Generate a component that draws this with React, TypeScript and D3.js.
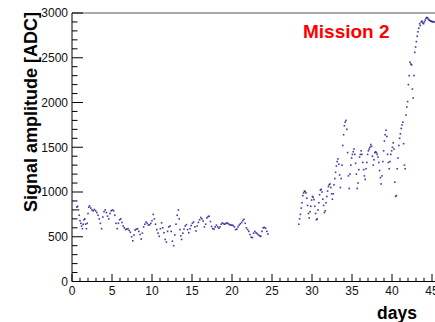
import React, { useEffect, useRef } from 'react';
import * as d3 from 'd3';

// first run (days 0.6 - 24.5)
const daysRunA = [
  0.6, 0.7, 0.8, 0.9, 1.0, 1.1, 1.2, 1.3, 1.4, 1.5, 1.6, 1.7, 1.8, 1.9, 2.0, 2.1, 2.2, 2.35, 2.5, 2.65,
  2.8, 2.95, 3.1, 3.25, 3.4, 3.55, 3.7, 3.85, 4.0, 4.15, 4.3, 4.45, 4.6, 4.75, 4.9, 5.05, 5.2, 5.35, 5.5, 5.65,
  5.8, 5.95, 6.1, 6.25, 6.4, 6.55, 6.7, 6.85, 7.0, 7.15, 7.3, 7.45, 7.6, 7.75, 7.9, 8.05, 8.2, 8.35, 8.5, 8.65,
  8.8, 8.95, 9.1, 9.25, 9.4, 9.55, 9.7, 9.85, 10.0, 10.15, 10.3, 10.45, 10.6, 10.75, 10.9, 11.05, 11.2, 11.35, 11.5, 11.65,
  11.8, 11.95, 12.1, 12.25, 12.4, 12.55, 12.7, 12.85, 13.0, 13.15, 13.3, 13.4, 13.5, 13.6, 13.7, 13.85, 14.0, 14.15, 14.3, 14.45,
  14.6, 14.75, 14.9, 15.05, 15.2, 15.35, 15.5, 15.65, 15.8, 15.95, 16.1, 16.25, 16.4, 16.55, 16.7, 16.85, 17.0, 17.15, 17.3, 17.45,
  17.6, 17.75, 17.9, 18.05, 18.2, 18.35, 18.5, 18.65, 18.8, 18.95, 19.1, 19.25, 19.4, 19.55, 19.7, 19.85, 20.0, 20.15, 20.3, 20.45,
  20.6, 20.75, 20.9, 21.05, 21.2, 21.35, 21.5, 21.65, 21.8, 21.95, 22.1, 22.25, 22.4, 22.55, 22.7, 22.85, 23.0, 23.15, 23.3, 23.45,
  23.6, 23.75, 23.9, 24.05, 24.2, 24.35, 24.5,
];
const adcRunA = [
  830, 840, 800, 740, 680, 650, 620, 590, 640, 690, 700, 640, 590, 650, 760, 830, 845, 820, 800, 790,
  805, 790, 770, 740, 700, 650, 590, 720, 780, 800, 770, 730, 700, 760, 790, 800, 790, 740, 650, 590,
  650, 690, 700, 660, 620, 600, 580, 585, 590, 570, 550, 500, 455, 520, 575, 585, 590, 560, 525, 475,
  540, 610, 640, 665, 650, 630, 635, 650, 680, 750, 700, 640, 580, 540, 505, 590, 655, 600, 545, 470,
  440, 560, 610, 620, 560, 450, 400, 520, 640, 740, 800, 700, 580, 510, 470, 540, 585, 620, 635, 580,
  545, 590, 625, 650, 665, 610, 565, 620, 660, 690, 715, 700, 675, 610, 640, 710, 725, 730, 670, 615,
  590, 585, 610, 630, 610, 595, 610, 640, 655, 645, 640, 650, 655, 645, 635, 630, 630, 625, 610, 580,
  585, 610, 630, 645, 660, 680, 695, 650, 600, 580, 560, 525, 495, 490, 540, 560, 545, 535, 520, 510,
  505, 560, 600, 605, 595, 560, 530,
];

// second run (days 28.35 - 45.3)
const daysRunB = [
  28.35, 28.45, 28.55, 28.65, 28.75, 28.85, 28.95, 29.05, 29.15, 29.25, 29.35, 29.45, 29.55, 29.65, 29.75, 29.85, 29.95, 30.05, 30.15, 30.25,
  30.35, 30.45, 30.55, 30.65, 30.75, 30.85, 30.95, 31.05, 31.15, 31.25, 31.35, 31.45, 31.55, 31.65, 31.75, 31.85, 31.95, 32.05, 32.15, 32.25,
  32.35, 32.45, 32.55, 32.65, 32.75, 32.85, 32.95, 33.05, 33.15, 33.25, 33.35, 33.45, 33.55, 33.65, 33.75, 33.85, 33.95, 34.05, 34.15, 34.25,
  34.35, 34.45, 34.55, 34.65, 34.75, 34.85, 34.95, 35.05, 35.15, 35.25, 35.35, 35.45, 35.55, 35.65, 35.75, 35.85, 35.95, 36.05, 36.15, 36.25,
  36.35, 36.45, 36.55, 36.65, 36.75, 36.85, 36.95, 37.05, 37.15, 37.25, 37.35, 37.45, 37.55, 37.65, 37.75, 37.85, 37.95, 38.05, 38.15, 38.25,
  38.35, 38.45, 38.55, 38.65, 38.75, 38.85, 38.95, 39.05, 39.15, 39.25, 39.35, 39.45, 39.55, 39.65, 39.75, 39.85, 39.95, 40.05, 40.15, 40.25,
  40.35, 40.45, 40.55, 40.65, 40.75, 40.85, 40.95, 41.05, 41.15, 41.25, 41.35, 41.45, 41.55, 41.65, 41.75, 41.85, 41.95, 42.05, 42.15, 42.25,
  42.35, 42.45, 42.55, 42.65, 42.75, 42.85, 42.95, 43.05, 43.15, 43.25, 43.35, 43.45, 43.55, 43.65, 43.75, 43.85, 43.95, 44.05, 44.15, 44.25,
  44.35, 44.45, 44.55, 44.65, 44.75, 44.85, 44.95, 45.05, 45.15, 45.3,
];
const adcRunB = [
  640, 700, 750, 820, 880, 960, 990, 1010, 1005, 990, 930, 850, 760, 710, 780, 840, 910, 950, 940, 915,
  840, 760, 690, 700, 800, 880, 970, 1020, 1030, 1000, 920, 850, 770, 790, 880, 950, 1010, 1060, 1080, 1090,
  1050, 980, 920, 980, 1080, 1150, 1220, 1290, 1340, 1370, 1310, 1190, 1050, 1150, 1300, 1520, 1640, 1740, 1780, 1800,
  1700, 1440, 1180, 1040, 1200, 1300, 1380, 1420, 1450, 1480, 1420, 1320, 1200, 1040, 1100, 1250, 1390, 1420, 1460, 1420,
  1330, 1250, 1180, 1140, 1260, 1330, 1420, 1460, 1480, 1500, 1530, 1510, 1400, 1300, 1360, 1440, 1450, 1440, 1420, 1390,
  1330, 1240, 1160, 1090, 1180, 1340, 1460, 1570, 1640, 1690, 1620, 1420, 1330, 1260, 1340, 1420, 1460, 1500, 1550, 1480,
  1110, 950, 960, 1260, 1380, 1520, 1600, 1650, 1710, 1750, 1780, 1540, 1300, 1260, 1860, 1950, 2010, 2200, 2300, 2450,
  2430, 2420, 2150, 2050, 2300, 2560, 2620, 2680, 2740, 2790, 2830, 2880, 2860, 2900, 2910, 2890, 2880, 2900, 2920, 2940,
  2950, 2945, 2930, 2920, 2915, 2910, 2905, 2905, 2900, 2900,
];

const xTicks = [0, 5, 10, 15, 20, 25, 30, 35, 40, 45];
const yTicks = [0, 500, 1000, 1500, 2000, 2500, 3000];

const App = () => {
  const ref = useRef<SVGSVGElement>(null);

  useEffect(() => {
    const width = 435;
    const height = 322;
    const left = 72, right = 432, top = 13, bottom = 281.5;
    const font = '"Liberation Sans", Arial, Helvetica, sans-serif';

    const svg = d3.select(ref.current);
    svg.selectAll('*').remove();
    svg.attr('width', width).attr('height', height);

    const x = d3.scaleLinear().domain([0, 45]).range([left, right]);
    const y = d3.scaleLinear().domain([0, 3000]).range([bottom, top]);

    // frame
    svg.append('line').attr('x1', left).attr('x2', width).attr('y1', top).attr('y2', top)
      .attr('stroke', '#555').attr('stroke-width', 1);
    svg.append('line').attr('x1', left).attr('x2', width).attr('y1', bottom).attr('y2', bottom)
      .attr('stroke', '#000').attr('stroke-width', 1);
    svg.append('line').attr('x1', left).attr('x2', left).attr('y1', top).attr('y2', bottom)
      .attr('stroke', '#000').attr('stroke-width', 1);

    // x ticks: minor every day, major every 5
    const xMinor = d3.range(0, 47, 1);
    svg.append('g').selectAll('line').data(xMinor).join('line')
      .attr('x1', d => x(d)).attr('x2', d => x(d))
      .attr('y1', bottom).attr('y2', d => bottom - (d % 5 === 0 ? 7.5 : 3.8))
      .attr('stroke', '#000').attr('stroke-width', 1);
    svg.append('g').selectAll('text').data(xTicks).join('text')
      .attr('x', d => x(d)).attr('y', 295)
      .attr('text-anchor', 'middle')
      .style('font-family', font).style('font-size', '12px').style('fill', '#111')
      .text(d => d);

    // y ticks: minor every 100, major every 500
    const yMinor = d3.range(0, 3001, 100);
    svg.append('g').selectAll('line').data(yMinor).join('line')
      .attr('x1', left).attr('x2', d => left + (d % 500 === 0 ? 11 : 5.5))
      .attr('y1', d => y(d)).attr('y2', d => y(d))
      .attr('stroke', '#000').attr('stroke-width', 1);
    svg.append('g').selectAll('text').data(yTicks).join('text')
      .attr('x', 68).attr('y', d => y(d) + 4.3)
      .attr('text-anchor', 'end')
      .style('font-family', font).style('font-size', '12px').style('fill', '#111')
      .text(d => d);

    // axis titles
    svg.append('text')
      .attr('transform', 'translate(37,12) rotate(-90)')
      .attr('text-anchor', 'end')
      .style('font-family', font).style('font-size', '18px').style('font-weight', 'bold')
      .text('Signal amplitude [ADC]');
    svg.append('text')
      .attr('x', 417).attr('y', 319)
      .attr('text-anchor', 'end')
      .style('font-family', font).style('font-size', '17.5px').style('font-weight', 'bold')
      .text('days');

    svg.append('text')
      .attr('x', 303).attr('y', 38)
      .style('font-family', font).style('font-size', '19px').style('font-weight', 'bold')
      .style('fill', '#ff0000')
      .text('Mission 2');

    // data points
    const points = [
      ...daysRunA.map((d, i) => ({ day: d, adc: adcRunA[i] })),
      ...daysRunB.map((d, i) => ({ day: d, adc: adcRunB[i] })),
    ];
    svg.append('g').selectAll('rect').data(points).join('rect')
      .attr('x', d => x(d.day) - 0.8)
      .attr('y', d => y(d.adc) - 0.8)
      .attr('width', 1.6).attr('height', 1.6)
      .attr('fill', '#1c1c96').attr('opacity', 0.85);
  }, []);

  return <svg ref={ref} style={{ position: 'absolute', left: 0, top: 0 }} />;
};

export default App;
